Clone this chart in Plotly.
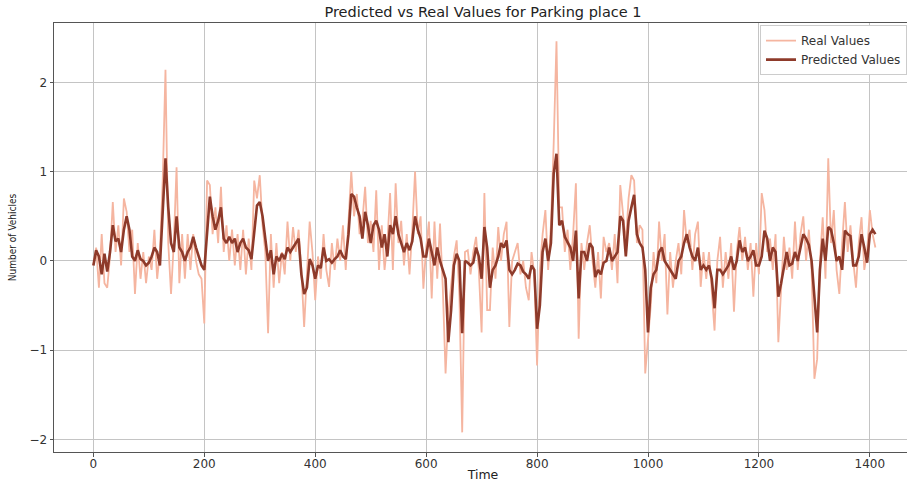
import plotly.graph_objects as go

# time index (every 5th sample)
time = list(range(0, 1411, 5))

real_values = [
    # 0..220
    -0.05, 0.15, -0.3, 0.3, -0.25, -0.3, 0.05, 0.66, 0.1, 0.4, -0.05, 0.7, 0.55, 0.1, 0.35, -0.37,
    0.2, -0.2, 0.1, -0.25, 0.05, -0.1, 0.35, -0.2, 0.1, 0.9, 2.14, 0.2, -0.37, 0.2, 1.05, -0.25,
    0.3, -0.2, 0.3, -0.1, 0.3, 0.0, -0.15, -0.2, -0.7, 0.9, 0.85, 0.3, 0.6,
    # 225..470
    0.2, 0.83, 0.1, 0.4, 0.0, 0.35, -0.05, 0.3, -0.1, 0.35, -0.15, 0.25, -0.1, 0.9, 0.7, 0.96,
    0.4, 0.1, -0.81, 0.3, -0.3, 0.2, -0.25, 0.1, -0.15, 0.44, 0.0, 0.38, 0.1, 0.35, -0.1, -0.74,
    -0.2, 0.44, 0.1, -0.44, 0.05, -0.2, 0.3, -0.1, -0.29, 0.2, -0.1, 0.25, 0.0, 0.4, -0.1, 0.5,
    1.0, 0.5,
    # 475..710
    0.75, 0.3, 0.45, 0.83, 0.2, 0.45, 0.1, 0.79, -0.1, 0.4, -0.1, 0.2, 0.76, -0.1, 0.87, 0.2,
    0.45, -0.05, 0.3, -0.15, 0.35, 1.0, 0.3, 0.5, -0.31, 0.15, 0.44, -0.42, 0.44, -0.2, 0.42, -0.3,
    -1.26, -0.6, -0.3, 0.05, 0.23, -0.4, -1.92, 0.1, 0.12, -0.15, 0.1, 0.27, -0.1, -0.8, 0.76, -0.55,
    # 715..960
    -0.55, 0.15, -0.2, 0.38, 0.0, 0.3, 0.44, -0.74, 0.0, 0.1, 0.2, -0.15, 0.0, -0.3, -0.44, 0.1,
    -0.15, -1.17, -0.1, 0.3, 0.57, -0.1, 0.4, 1.32, 2.46, 0.6, 0.6, 0.1, 0.35, -0.1, 0.3, 0.87,
    -0.87, 0.2, -0.1, 0.2, 0.4, 0.0, -0.3, 0.1, -0.42, 0.27, 0.1, 0.2, -0.1, 0.3, -0.25, 0.85,
    0.5, 0.2,
    # 965..1200
    0.7, 0.96, 0.9, 0.2, 0.4, 0.35, -1.26, -0.9, -0.5, 0.1, -0.25, 0.44, 0.0, 0.3, -0.6, 0.1,
    -0.3, 0.0, 0.2, -0.15, 0.57, 0.2, 0.35, -0.1, 0.3, 0.44, -0.29, 0.1, -0.2, 0.1, -0.4, -0.78,
    0.0, 0.27, -0.3, 0.1, -0.2, 0.2, -0.57, 0.1, 0.38, 0.0, 0.27, -0.1, 0.2, -0.4, 0.2, -0.15,
    # 1205..1410
    0.76, 0.57, 0.1, 0.25, -0.1, 0.3, -0.91, -0.3, 0.27, -0.1, 0.15, -0.2, 0.44, -0.1, 0.3, 0.5,
    0.0, 0.35, -0.1, -1.32, -1.1, 0.0, 0.49, -0.2, 1.15, 0.2, 0.57, -0.1, -0.37, 0.2, 0.66, 0.1,
    0.4, 0.0, -0.3, 0.2, 0.49, -0.1, 0.1, 0.57, 0.3, 0.15,
]

predicted_values = [
    # 0..220
    -0.05, 0.12, 0.05, -0.15, 0.08, -0.12, 0.1, 0.4, 0.22, 0.25, 0.1, 0.35, 0.5, 0.35, 0.05, 0.0,
    0.12, 0.02, 0.0, -0.05, -0.02, 0.05, 0.15, 0.1, -0.05, 0.5, 1.15, 0.6, 0.2, 0.1, 0.5, 0.15,
    0.1, 0.0, 0.1, 0.15, 0.27, 0.15, 0.05, -0.05, -0.1, 0.35, 0.72, 0.5, 0.35,
    # 225..470
    0.45, 0.6, 0.25, 0.2, 0.27, 0.2, 0.25, 0.1, 0.2, 0.25, 0.15, 0.12, 0.02, 0.3, 0.62, 0.66,
    0.5, 0.25, 0.0, 0.12, -0.15, 0.05, 0.0, 0.08, 0.02, 0.15, 0.1, 0.15, 0.2, 0.25, -0.15, -0.37,
    -0.3, 0.02, -0.05, -0.2, -0.05, -0.08, 0.15, 0.0, 0.02, -0.02, 0.02, 0.05, 0.12, 0.05, 0.02, 0.3,
    0.75, 0.72,
    # 475..710
    0.6, 0.5, 0.25, 0.55, 0.4, 0.2, 0.4, 0.45, 0.35, 0.15, 0.3, 0.05, 0.4, 0.3, 0.5, 0.3,
    0.2, 0.1, 0.2, 0.12, 0.22, 0.5, 0.35, 0.25, 0.05, 0.05, 0.25, 0.1, -0.05, 0.15, 0.0, -0.1,
    -0.2, -0.91, -0.55, -0.05, 0.08, 0.0, -0.81, 0.0, -0.02, -0.05, -0.02, 0.15, 0.05, -0.2, 0.38, 0.15,
    # 715..960
    -0.3, -0.1, -0.05, 0.05, 0.2, 0.15, 0.23, -0.1, -0.15, -0.1, -0.03, -0.05, -0.12, -0.15, -0.2, -0.05,
    -0.1, -0.76, -0.5, 0.1, 0.25, 0.0, 0.2, 0.98, 1.2, 0.4, 0.45, 0.27, 0.2, 0.15, 0.0, 0.34,
    -0.42, 0.1, 0.1, 0.0, 0.2, 0.15, -0.18, -0.1, -0.15, -0.02, 0.0, 0.15, 0.0, 0.05, 0.1, 0.5,
    0.45, 0.05,
    # 965..1200
    0.45, 0.6, 0.74, 0.3, 0.2, 0.15, -0.1, -0.8, -0.3, -0.15, -0.1, 0.1, 0.15, 0.0, -0.05, -0.1,
    -0.15, -0.2, 0.0, 0.05, 0.2, 0.3, 0.15, 0.05, 0.0, 0.15, -0.1, -0.05, -0.1, -0.05, -0.2, -0.53,
    -0.1, -0.1, -0.15, -0.1, -0.05, 0.05, -0.1, 0.0, 0.23, 0.1, 0.15, 0.0, 0.05, 0.12, -0.05, -0.05,
    # 1205..1410
    0.05, 0.34, 0.25, 0.0, 0.15, 0.1, -0.4, -0.25, -0.05, 0.1, -0.05, -0.03, 0.1, 0.0, 0.15, 0.3,
    0.25, 0.18, 0.0, -0.4, -0.8, -0.1, 0.25, 0.0, 0.38, 0.35, 0.2, 0.0, 0.05, -0.1, 0.34, 0.3,
    0.28, -0.05, -0.05, 0.05, 0.3, 0.15, -0.02, 0.3, 0.35, 0.3,
]

x_ticks = [0, 200, 400, 600, 800, 1000, 1200, 1400]
y_ticks = [-2, -1, 0, 1, 2]

FONT = "DejaVu Sans, sans-serif"
FONT_COND = "DejaVu Sans Condensed, DejaVu Sans, sans-serif"

fig = go.Figure()
fig.add_trace(go.Scatter(x=time, y=real_values, mode="lines", name="Real Values",
                         line=dict(color="#f5b5a0", width=1.8)))
fig.add_trace(go.Scatter(x=time, y=predicted_values, mode="lines", name="Predicted Values",
                         line=dict(color="#8e3a2a", width=2.6)))

fig.update_layout(
    width=912, height=485,
    margin=dict(l=54, r=0, t=23, b=33),
    paper_bgcolor="white", plot_bgcolor="white",
    font=dict(family=FONT, color="#333333", size=12),
    title=dict(text="Predicted vs Real Values for Parking place 1",
               x=483 / 912, xref="container", xanchor="center",
               y=1 - 12 / 485, yref="container", yanchor="middle",
               font=dict(family=FONT, size=14.5, color="#222222")),
    legend=dict(x=(907 - 54) / (912 - 54), xanchor="right", y=0.995, yanchor="top",
                bgcolor="white", bordercolor="#cccccc", borderwidth=1,
                font=dict(family=FONT, size=12, color="#333333"),
                itemwidth=30, tracegroupgap=0),
    showlegend=True,
)
fig.update_xaxes(range=[-71, 1476], tickvals=x_ticks, ticktext=[str(v) for v in x_ticks],
                 showgrid=True, gridcolor="#c4c4c4", gridwidth=1,
                 showline=True, linecolor="#555555", linewidth=1, mirror=True,
                 ticks="outside", ticklen=3.5, tickcolor="#555555",
                 tickfont=dict(family=FONT, size=12, color="#333333"),
                 ticklabelstandoff=-3,
                 zeroline=False,
                 title=dict(text="Time", standoff=0, font=dict(family=FONT, size=12.5, color="#222222")))
fig.update_yaxes(range=[-2.14, 2.665], tickvals=y_ticks,
                 showgrid=True, gridcolor="#c4c4c4", gridwidth=1,
                 showline=True, linecolor="#555555", linewidth=1, mirror=False,
                 ticks="outside", ticklen=3.5, tickcolor="#555555",
                 tickfont=dict(family=FONT, size=12, color="#333333"),
                 zeroline=False,
                 title=dict(text="Number of Vehicles", standoff=10, font=dict(family=FONT_COND, size=10, color="#222222")))

fig.write_html("out.html", config={"displayModeBar": False},
               post_script="document.body.style.margin='0';document.body.style.overflow='hidden';")
